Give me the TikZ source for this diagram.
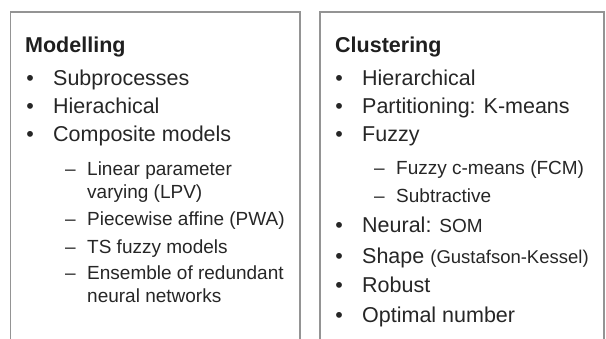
\documentclass[tikz,border=0pt]{standalone}
\usepackage{fontspec}
\setmainfont{Liberation Sans}
\usetikzlibrary{positioning}

\begin{document}
\begin{tikzpicture}[x=1pt, y=-1pt,
    frame/.style={draw=black!42, line width=1.8pt},
    head/.style={anchor=base west, inner sep=0pt, text=black!88, font=\fontsize{21.5}{24}\selectfont\bfseries},
    item/.style={anchor=base west, inner sep=0pt, text=black!85, font=\fontsize{21.5}{24}\selectfont},
    subitem/.style={anchor=base west, inner sep=0pt, text=black!85, font=\fontsize{19}{21}\selectfont},
    bulletmark/.style={anchor=base east, inner sep=0pt, text=black!85, font=\fontsize{21.5}{24}\selectfont},
    dashmark/.style={anchor=base east, inner sep=0pt, text=black!85, font=\fontsize{19}{21}\selectfont}]
    \useasboundingbox (0,0) rectangle (606,338);
    % the two panels, open at the bottom
    \draw[frame] (10.5,340) -- (10.5,12) -- (300,12) -- (300,340);
    \draw[frame] (320,340) -- (320,12) -- (604,12) -- (604,340);

    % left panel
    \node[head] (model) at (25,52) {Modelling};
    \node[item] (sub) at (53,85) {Subprocesses};
    \node[item] (hier) at (53,113) {Hierachical};
    \node[item] (comp) at (53,141) {Composite models};
    \node[subitem] (lpv) at (87,175) {Linear parameter};
    \node[subitem] (lpvb) at (87,198.5) {varying (LPV)};
    \node[subitem] (pwa) at (87,225) {Piecewise affine (PWA)};
    \node[subitem] (ts) at (87,253) {TS fuzzy models};
    \node[subitem] (ens) at (87,279) {Ensemble of redundant};
    \node[subitem] (ensb) at (87,302) {neural networks};
    \foreach \n in {sub,hier,comp}
        \node[bulletmark] at ([xshift=-19pt]\n.base west) {•};
    \foreach \n in {lpv,pwa,ts,ens}
        \node[dashmark] at ([xshift=-11pt]\n.base west) {–};

    % right panel
    \node[head] (clust) at (335,52) {Clustering};
    \node[item] (hrc) at (362,85) {Hierarchical};
    \node[item] (part) at (362,113) {Partitioning: K-means};
    \node[item] (fuz) at (362,141) {Fuzzy};
    \node[subitem] (fcm) at (396,174) {Fuzzy c-means (FCM)};
    \node[subitem] (subtr) at (396,202) {Subtractive};
    \node[item] (neur) at (362,232) {Neural: {\fontsize{19}{20}\selectfont SOM}};
    \node[item] (shape) at (362,263) {Shape {\fontsize{18.5}{20}\selectfont (Gustafson-Kessel)}};
    \node[item] (rob) at (362,292) {Robust};
    \node[item] (opt) at (362,322) {Optimal number};
    \foreach \n in {hrc,part,fuz,neur,shape,rob,opt}
        \node[bulletmark] at ([xshift=-19pt]\n.base west) {•};
    \foreach \n in {fcm,subtr}
        \node[dashmark] at ([xshift=-11pt]\n.base west) {–};
\end{tikzpicture}
\end{document}
